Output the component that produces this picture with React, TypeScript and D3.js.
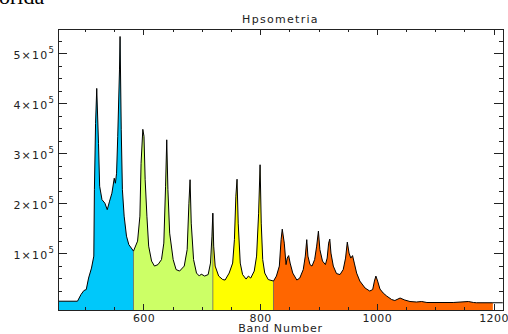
import React, { useEffect, useRef } from 'react';
import * as d3 from 'd3';

// hipsometria por banda
const bandNumbers = [
  453, 486, 492, 497, 501, 505, 510, 514, 515, 517, 519, 522, 524, 528, 533, 537, 541, 545, 549, 551,
  553, 555, 558, 559, 561, 563, 566, 570, 574, 582, 589, 593, 595, 598, 600, 602, 605, 608, 613, 618,
  624, 630, 634, 637, 639, 641, 644, 650, 655, 661, 669, 674, 677, 679, 681, 685, 690, 695, 698, 704,
  710, 714, 716.5, 718, 719.5, 722, 728, 735, 739, 746, 752, 755, 757.5, 759.5, 761.5, 765, 769, 775, 779, 783,
  789, 793, 796.5, 799, 801, 803.5, 807, 813, 822, 827, 832, 835, 837, 840.5, 843.5, 845.5, 848, 850.5, 855, 862,
  867, 873, 876.5, 879, 881, 884.5, 888, 892.5, 896, 899, 901.5, 906, 911, 914, 916.5, 918.5, 920.5, 924.5, 930, 936,
  941.5, 945.5, 948.5, 951.5, 954.5, 957.5, 960.5, 964.5, 970, 979, 987, 992, 995, 997.5, 1000.5, 1004.5, 1010, 1016, 1024.5, 1030,
  1039, 1047, 1056, 1067, 1076, 1085, 1130, 1156, 1165, 1170, 1198, 1215,
];
const counts = [
  4600, 4600, 18000, 26000, 28000, 51000, 71000, 95000, 228000, 361000, 431000, 321000, 235000, 208000, 201000, 188000, 205000, 221000, 251000, 241000,
  261000, 335000, 468000, 535000, 348000, 228000, 175000, 135000, 118000, 105000, 125000, 175000, 281000, 349000, 335000, 248000, 175000, 115000, 85000, 75000,
  78000, 88000, 121000, 235000, 328000, 228000, 141000, 88000, 68000, 65000, 75000, 108000, 201000, 248000, 161000, 88000, 61000, 55000, 59000, 55000,
  58000, 81000, 135000, 181000, 115000, 75000, 55000, 48000, 47000, 61000, 81000, 128000, 215000, 249000, 161000, 81000, 58000, 49000, 55000, 51000,
  65000, 95000, 181000, 278000, 161000, 88000, 61000, 48000, 45000, 55000, 75000, 128000, 149000, 121000, 78000, 91000, 96000, 81000, 61000, 47000,
  51000, 68000, 95000, 128000, 95000, 78000, 75000, 88000, 115000, 145000, 108000, 85000, 78000, 91000, 121000, 129000, 101000, 75000, 60000, 58000,
  68000, 91000, 123000, 101000, 91000, 96000, 81000, 61000, 45000, 31000, 25000, 28000, 45000, 55000, 45000, 29000, 21000, 15000, 8000, 6000,
  11000, 7000, 4000, 3000, 4000, 2000, 2000, 4000, 2000, 1500, 1500, 1500,
];

// faixas coloridas
const segmentBreaks = [453, 582, 718, 822, 1198];
const segmentColors = ['#00c8fa', '#ccff66', '#ffff00', '#ff6600'];

const xMajorTicks = [600, 800, 1000, 1200];
const xMinorTicks = [500, 550, 650, 700, 750, 850, 900, 950, 1050, 1100, 1150];
const yMajorTicks = [100000, 200000, 300000, 400000, 500000];
const yTickLabels = ['1', '2', '3', '4', '5'];
const yMinorTicks = [25000, 50000, 75000, 125000, 150000, 175000, 225000, 250000, 275000, 325000, 350000, 375000, 425000, 450000, 475000, 525000];

const Hipsometria = () => {
  const chartRef = useRef<SVGSVGElement>(null);

  useEffect(() => {
    const svg = d3.select(chartRef.current);
    svg.selectAll('*').remove();

    const left = 58, right = 503, top = 29, bottom = 310;
    const font = '"DejaVu Sans", sans-serif';

    const x = d3.scaleLinear().domain([452.6, 1215.4]).range([left, right]);
    const y = d3.scaleLinear().domain([-13000, 550000]).range([bottom, top]);

    const pts = bandNumbers.map((b, i) => ({ b, v: counts[i] }));

    // áreas
    const area = d3.area<{ b: number; v: number }>()
      .x(d => x(d.b))
      .y0(bottom)
      .y1(d => y(d.v));

    segmentColors.forEach((c, i) => {
      const lo = segmentBreaks[i], hi = segmentBreaks[i + 1];
      const seg = pts.filter(d => d.b >= lo && d.b <= hi);
      svg.append('path').attr('d', area(seg)).attr('fill', c);
      if (i > 0) {
        svg.append('line')
          .attr('x1', x(lo)).attr('x2', x(lo))
          .attr('y1', y(seg[0].v)).attr('y2', bottom)
          .attr('stroke', '#555').attr('stroke-width', 1).attr('opacity', 0.7);
      }
    });

    // linha
    const line = d3.line<{ b: number; v: number }>().x(d => x(d.b)).y(d => y(d.v));
    svg.append('path').attr('d', line(pts)).attr('fill', 'none').attr('stroke', '#000').attr('stroke-width', 1);

    // moldura
    svg.append('rect')
      .attr('x', left).attr('y', top).attr('width', right - left).attr('height', bottom - top)
      .attr('fill', 'none').attr('stroke', '#222').attr('shape-rendering', 'crispEdges');

    // ticks para dentro
    const tickG = svg.append('g').attr('stroke', '#222').attr('shape-rendering', 'crispEdges');
    const xLen = 0.02 * (bottom - top);
    const yLen = 0.02 * (right - left);
    const xTicks = [...xMajorTicks.map(t => [t, xLen]), ...xMinorTicks.map(t => [t, xLen / 2])];
    xTicks.forEach(([t, l]) => {
      tickG.append('line').attr('x1', x(t)).attr('x2', x(t)).attr('y1', bottom).attr('y2', bottom - l);
      tickG.append('line').attr('x1', x(t)).attr('x2', x(t)).attr('y1', top).attr('y2', top + l);
    });
    const yTicks = [...yMajorTicks.map(t => [t, yLen]), ...yMinorTicks.map(t => [t, yLen / 2])];
    yTicks.forEach(([t, l]) => {
      tickG.append('line').attr('x1', left).attr('x2', left + l).attr('y1', y(t)).attr('y2', y(t));
      tickG.append('line').attr('x1', right).attr('x2', right - l).attr('y1', y(t)).attr('y2', y(t));
    });

    // rótulos
    svg.append('g').selectAll('text')
      .data(xMajorTicks)
      .enter().append('text')
      .attr('x', d => x(d)).attr('y', 321.5)
      .attr('text-anchor', 'middle')
      .attr('font-family', font).attr('font-size', 11).attr('letter-spacing', 0.4)
      .attr('fill', '#222')
      .text(d => d);

    yMajorTicks.forEach((t, i) => {
      const txt = svg.append('text')
        .attr('x', 55).attr('y', y(t) + 5)
        .attr('text-anchor', 'end')
        .attr('font-family', font).attr('font-size', 11).attr('letter-spacing', 1.2)
        .attr('fill', '#222');
      txt.append('tspan').text(`${yTickLabels[i]}×10`);
      txt.append('tspan').attr('dy', -6).attr('font-size', 8.5).text('5');
    });

    svg.append('text')
      .attr('x', (left + right) / 2).attr('y', 332)
      .attr('text-anchor', 'middle')
      .attr('font-family', font).attr('font-size', 11).attr('letter-spacing', 0.8)
      .attr('fill', '#222')
      .text('Band Number');

    svg.append('text')
      .attr('x', (left + right) / 2).attr('y', 23)
      .attr('text-anchor', 'middle')
      .attr('font-family', font).attr('font-size', 11).attr('letter-spacing', 1.3)
      .attr('fill', '#222')
      .text('Hpsometria');

    // texto cortado no topo
    svg.append('text')
      .attr('x', -1).attr('y', 3.5)
      .attr('font-family', '"Liberation Serif", serif').attr('font-size', 22)
      .attr('fill', '#000')
      .text('orida');
  }, []);

  return (
    <svg ref={chartRef} width={508} height={334}
      style={{ position: 'absolute', left: 0, top: 0, background: '#fff' }} />
  );
};

export default function App() {
  return <Hipsometria />;
}
